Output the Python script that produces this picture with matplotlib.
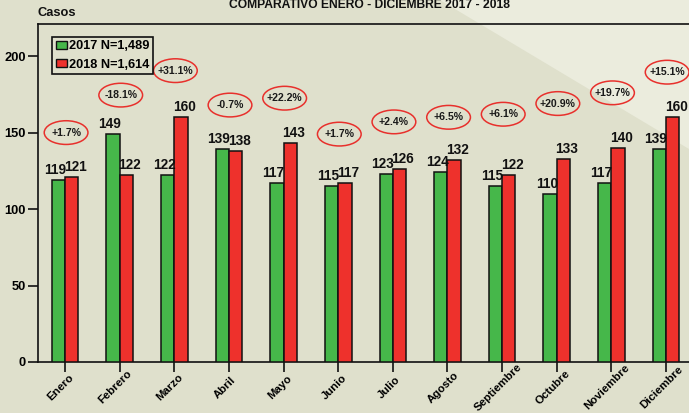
import matplotlib
matplotlib.use('Agg')
import matplotlib.pyplot as plt
from matplotlib.patches import Ellipse, Polygon, Patch
from matplotlib.transforms import ScaledTranslation

# ---- data ----
months = ['Enero', 'Febrero', 'Marzo', 'Abril', 'Mayo', 'Junio', 'Julio',
          'Agosto', 'Septiembre', 'Octubre', 'Noviembre', 'Diciembre']
casos_2017 = [119, 149, 122, 139, 117, 115, 123, 124, 115, 110, 117, 139]
casos_2018 = [121, 122, 160, 138, 143, 117, 126, 132, 122, 133, 140, 160]
pct_labels = ['+1.7%', '-18.1%', '+31.1%', '-0.7%', '+22.2%', '+1.7%',
              '+2.4%', '+6.5%', '+6.1%', '+20.9%', '+19.7%', '+15.1%']
legend_2017 = '2017 N=1,489'
legend_2018 = '2018 N=1,614'
title = 'COMPARATIVO ENERO - DICIEMBRE 2017 - 2018'
y_label = 'Casos'
y_ticks = [0, 50, 100, 150, 200]

# ---- layout (annotation offsets above taller bar, in data units) ----
pct_offset = [29, 25.5, 30.5, 29, 29.5, 32, 31, 28, 40, 36, 36, 29.5]

W, H = 689, 413
FONT = 'Liberation Sans'
BG = '#dfe0cc'
BG_LIGHT = '#ebecdd'
GREEN = '#46b74a'
RED = '#ee312c'

fig = plt.figure(figsize=(W / 100, H / 100), dpi=100, facecolor=BG)
tri = Polygon([(440 / W, 1), (1, 1), (1, 1 - 149 / H)], closed=True,
              transform=fig.transFigure, facecolor=BG_LIGHT,
              edgecolor='none', zorder=-10)
fig.patches.append(tri)

ax = fig.add_axes([38 / W, 1 - 362 / H, 1 - 38 / W, (362 - 24) / H])
ax.set_facecolor('none')
ax.set_zorder(1)

n = len(months)
x = list(range(n))
bw = 0.244
ax.bar([i - bw / 2 for i in x], casos_2017, width=bw, color=GREEN,
       edgecolor='#111111', linewidth=1.1, zorder=3)
ax.bar([i + bw / 2 for i in x], casos_2018, width=bw, color=RED,
       edgecolor='#111111', linewidth=1.1, zorder=3)

ax.set_xlim(-0.494, 11.42)
ax.set_ylim(0, 221)

for i in x:
    ax.annotate(str(casos_2017[i]), (i - bw / 2, casos_2017[i]),
                xytext=(-2.5, 4.3), textcoords='offset points',
                ha='center', va='baseline', fontsize=9.8, fontweight='bold',
                family=FONT, color='#111111', zorder=5)
    ax.annotate(str(casos_2018[i]), (i + bw / 2, casos_2018[i]),
                xytext=(2.5, 4.3), textcoords='offset points',
                ha='center', va='baseline', fontsize=9.8, fontweight='bold',
                family=FONT, color='#111111', zorder=5)
    yc = max(casos_2017[i], casos_2018[i]) + pct_offset[i]
    ax.add_patch(Ellipse((i + 0.02, yc), 0.80, 15.5, facecolor='none',
                         edgecolor='#e8302c', linewidth=1.1, zorder=4))
    ax.text(i + 0.02, yc, pct_labels[i], ha='center', va='center',
            fontsize=7.6, fontweight='bold', family=FONT, color='#1a1a1a',
            zorder=5)

# axes styling
for s in ['left', 'bottom', 'top']:
    ax.spines[s].set_linewidth(1.2)
    ax.spines[s].set_color('#111111')
ax.spines['right'].set_visible(False)

ax.set_yticks(y_ticks)
ax.set_yticklabels([str(v) for v in y_ticks], fontsize=9.3, fontweight='bold',
                   family=FONT)
ax.tick_params(axis='y', length=7.2, width=1.2, pad=1.5, color='#111111')

ax.set_xticks(x)
ax.set_xticklabels(months, rotation=45, ha='center', va='center',
                   rotation_mode='anchor', fontsize=8.2, fontweight='bold',
                   family=FONT)
ax.tick_params(axis='x', length=7.2, width=1.2, pad=11.0, color='#111111')
off = ScaledTranslation(-4 / 100, 0, fig.dpi_scale_trans)
for lab in ax.get_xticklabels():
    lab.set_transform(lab.get_transform() + off)

# legend
handles = [Patch(facecolor=GREEN, edgecolor='#111111', linewidth=1.0, label=legend_2017),
           Patch(facecolor=RED, edgecolor='#111111', linewidth=1.0, label=legend_2018)]
leg = ax.legend(handles=handles, loc='upper left',
                bbox_to_anchor=(52.5 / W, 1 - 37 / H), bbox_transform=fig.transFigure,
                prop={'family': FONT, 'weight': 'bold', 'size': 9.2},
                handlelength=0.85, handleheight=0.6, handletextpad=0.2,
                borderpad=0.25, labelspacing=0.5, borderaxespad=0,
                fancybox=False, framealpha=1, facecolor='none', edgecolor='#111111')
leg.get_frame().set_linewidth(1.2)
leg.set_zorder(6)

fig.text(38 / W, 1 - 12.5 / H, y_label, ha='left', va='center', fontsize=9.3,
         fontweight='bold', family=FONT, color='#111111')
fig.text(369.5 / W, 1 - 8.5 / H, title, ha='center', va='baseline', fontsize=8.7,
         fontweight='bold', family=FONT, color='#111111')

fig.savefig('out.png', dpi=100, facecolor=BG)
